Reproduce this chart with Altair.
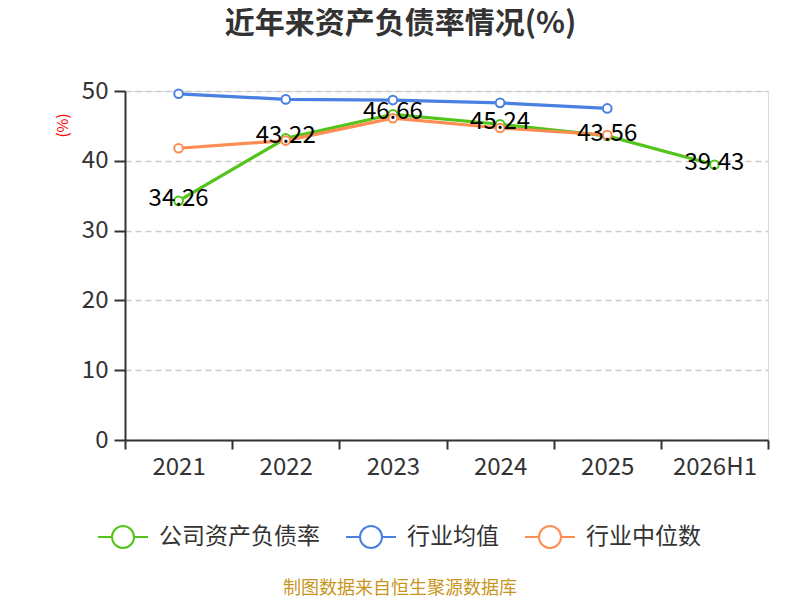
import altair as alt
import pandas as pd

years = ["2021", "2022", "2023", "2024", "2025", "2026H1"]
company = [34.26, 43.22, 46.66, 45.24, 43.56, 39.43]
industry_avg = [49.6, 48.8, 48.7, 48.3, 47.5, None]
industry_med = [41.8, 42.9, 46.1, 44.7, 43.7, None]
series_names = ["公司资产负债率", "行业均值", "行业中位数"]
series_colors = ["#52c41a", "#4a80e2", "#ff8c52"]

rows = []
for name, vals in zip(series_names, [company, industry_avg, industry_med]):
    for i, (y, v) in enumerate(zip(years, vals)):
        if v is not None:
            rows.append({"year": y, "value": v, "series": name, "order": series_names.index(name)})
df = pd.DataFrame(rows)
df_company = df[df["series"] == series_names[0]]

FONT = "Noto Sans CJK SC"

x_enc = alt.X("year:N", sort=years, title=None,
              scale=alt.Scale(paddingInner=0, paddingOuter=0),
              axis=alt.Axis(labelAngle=0, labelFontSize=24, labelColor="#333333", labelFont=FONT,
                            domainColor="#333333", domainWidth=2, tickColor="#333333", tickWidth=2,
                            tickSize=9, tickBand="extent", labelPadding=6, grid=False))
y_enc = alt.Y("value:Q", title="(%)",
              scale=alt.Scale(domain=[0, 50], nice=False),
              axis=alt.Axis(values=[0, 10, 20, 30, 40, 50], labelFontSize=24, labelColor="#333333",
                            labelFont=FONT, domainColor="#333333", domainWidth=2, tickColor="#333333",
                            tickWidth=2, tickSize=11, labelPadding=6, grid=True, gridColor="#cccccc",
                            gridDash=[6, 4], gridWidth=1.5, titleColor="#ff0000", titleFontSize=15,
                            titleFontWeight="normal", titleFont=FONT, titleAngle=-90, titleX=-63,
                            titleY=34, titleAlign="center", titleBaseline="middle"))

color_scale = alt.Scale(domain=series_names, range=series_colors)

legend_path = ("M -1 0 L -0.44 0 M 0.44 0 A 0.44 0.44 0 1 1 -0.44 0 "
               "A 0.44 0.44 0 1 1 0.44 0 M 0.44 0 L 1 0")

lines = alt.Chart(df).mark_line(strokeWidth=3.2).encode(
    x=x_enc, y=y_enc,
    color=alt.Color("series:N", scale=color_scale, sort=series_names,
                    legend=alt.Legend(title=None, orient="none", direction="horizontal",
                                      legendX=-28, legendY=420, symbolType=legend_path,
                                      symbolSize=2500, symbolStrokeWidth=2, symbolFillColor="white",
                                      labelFontSize=23, labelFont=FONT, labelColor="#333333",
                                      labelOffset=10, columnPadding=22, labelLimit=300)),
    order="order:Q",
    detail="series:N",
)

points = alt.Chart(df).mark_point(filled=True, fill="white", size=75, strokeWidth=2, opacity=1).encode(
    x=alt.X("year:N", sort=years), y="value:Q",
    stroke=alt.Stroke("series:N", scale=color_scale, legend=None),
)

labels = alt.Chart(df_company).mark_text(fontSize=24, font=FONT, color="#000000",
                                         align="center", baseline="middle", dy=-2).encode(
    x=alt.X("year:N", sort=years), y="value:Q",
    text=alt.Text("value:Q", format=".2f"),
)

source = alt.Chart(pd.DataFrame({"t": ["制图数据来自恒生聚源数据库"]})).mark_text(
    fontSize=18, font=FONT, color="#c8961e", align="center", baseline="middle").encode(
    x=alt.value(275), y=alt.value(498), text="t:N")

chart = alt.layer(lines, points, labels, source).properties(
    width=643, height=349,
    padding={"left": 117, "top": 83, "right": 24, "bottom": 158},
    autosize=alt.AutoSizeParams(type="none"),
    title=alt.TitleParams("近年来资产负债率情况(%)", anchor="middle", dx=-46, offset=40,
                          fontSize=30, font=FONT, fontWeight="bold", color="#333333"),
).resolve_scale(color="independent").configure_view(stroke=None).configure(background="white")

chart.save("out.html", embed_options={"renderer": "svg", "actions": False})
